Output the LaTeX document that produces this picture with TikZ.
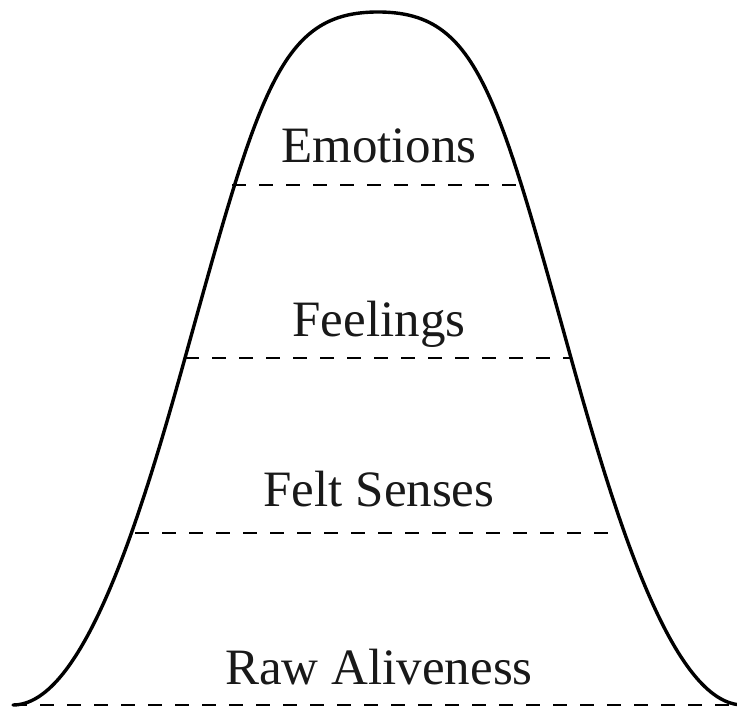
\documentclass[tikz,border=0pt]{standalone}
\usepackage{fontspec}
\setmainfont{Liberation Serif}
\begin{document}
\begin{tikzpicture}[x=1pt,y=1pt,
  curve/.style={line width=3.4pt,line cap=round},
  level/.style={line width=1.9pt,dash pattern=on 14pt off 13pt},
  lbl/.style={anchor=base,inner sep=0pt,font=\fontsize{51}{51}\selectfont,text=black!90}]
\useasboundingbox (0,0) rectangle (737,710);
\clip (0,0) rectangle (737,710);
% curve
\draw[curve] (13,5) .. controls (83,5) and (140,190) .. (185,352)
  .. controls (260,622) and (280,698) .. (378,698)
  .. controls (476,698) and (496,622) .. (571,352)
  .. controls (616,190) and (673,5) .. (743,5);
% level lines
\coordinate (e1) at (232,525); \coordinate (e2) at (525,525);
\coordinate (f1) at (185,352); \coordinate (f2) at (571,352);
\coordinate (s1) at (135,177); \coordinate (s2) at (620,177);
\coordinate (r1) at (13,5);    \coordinate (r2) at (737,5);
\draw[level] (e1) -- (e2);
\draw[level] (f1) -- (f2);
\draw[level] (s1) -- (s2);
\draw[level] (r1) -- (r2);
% labels
\node[lbl] (emo) at (379,547) {Emotions};
\node[lbl] (fee) at (379,373) {Feelings};
\node[lbl] (fel) at (379,203) {Felt Senses};
\node[lbl] (raw) at (379,25) {Raw Aliveness};
\end{tikzpicture}
\end{document}
